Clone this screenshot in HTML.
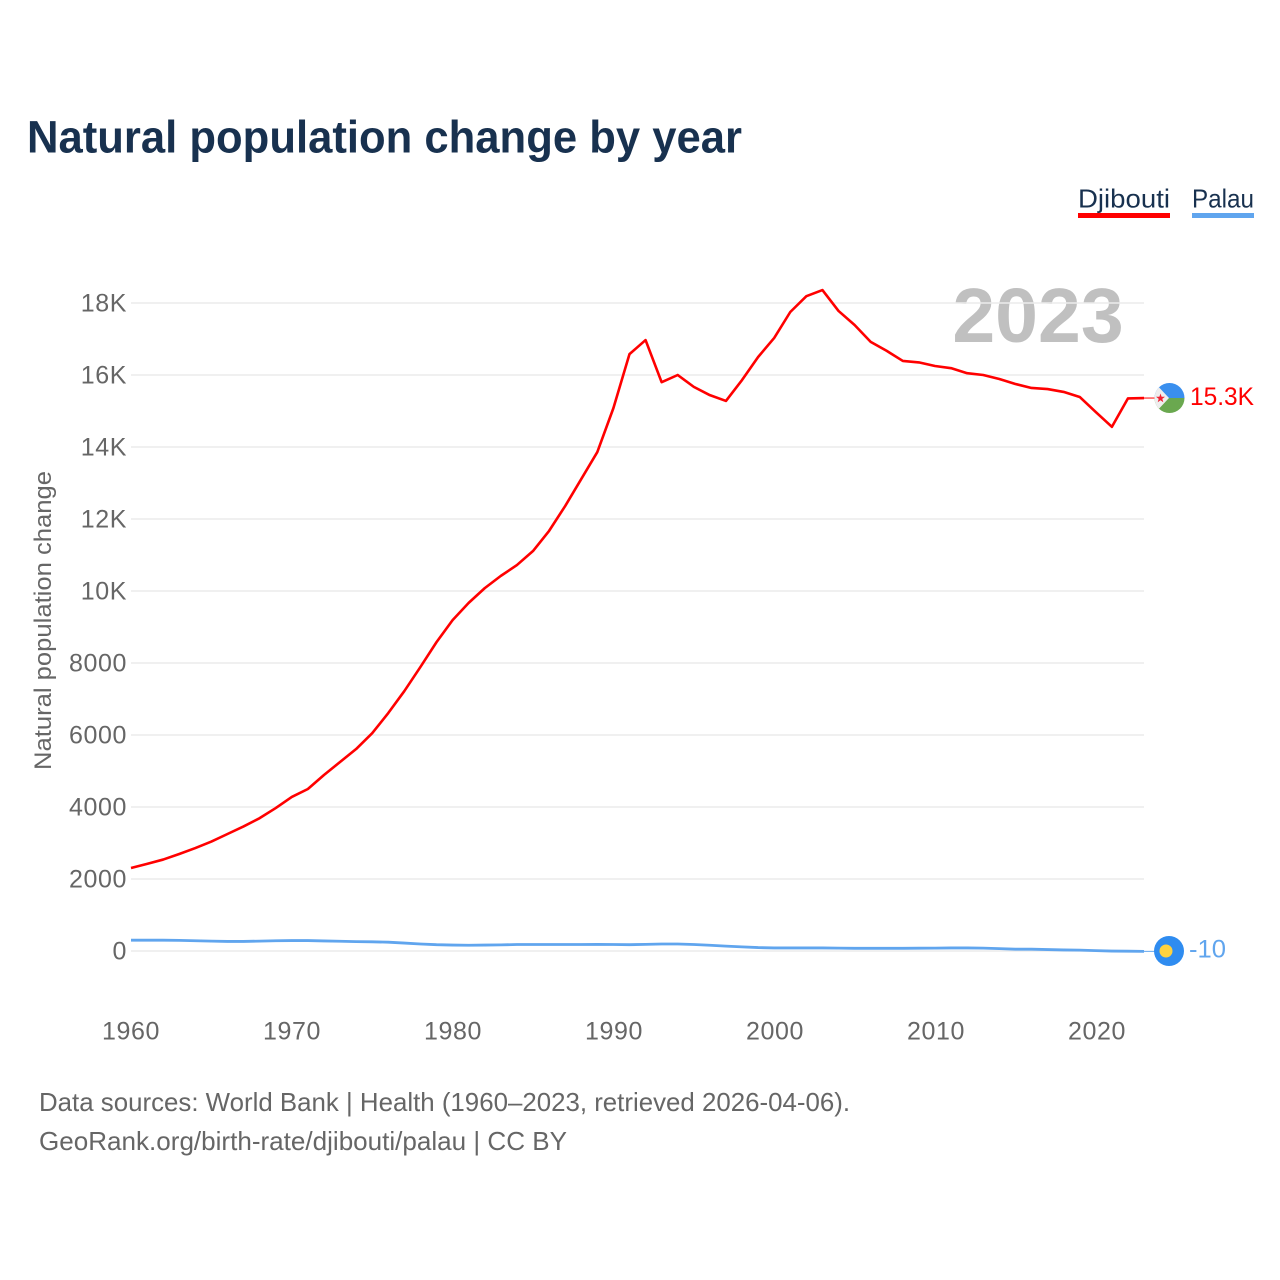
<!DOCTYPE html>
<html lang="en">
<head>
<meta charset="utf-8">
<title>Natural population change by year</title>
<style>
html,body{margin:0;padding:0;background:#fff;}
svg{display:block;font-family:"Liberation Sans",sans-serif;}
</style>
</head>
<body>
<svg id="chart" xmlns="http://www.w3.org/2000/svg" width="1280" height="1280" viewBox="0 0 1280 1280">
  <rect x="0" y="0" width="1280" height="1280" fill="#ffffff"/>
  <text x="27" y="152.5" font-size="45" font-weight="700" fill="#18314f" textLength="715" lengthAdjust="spacingAndGlyphs">Natural population change by year</text>

  <g>
    <text x="1078" y="207.5" font-size="26" fill="#18314f" textLength="92" lengthAdjust="spacingAndGlyphs">Djibouti</text>
    <rect x="1078" y="213" width="92" height="5" fill="#ff0000"/>
  </g>
  <g>
    <text x="1192" y="207.5" font-size="26" fill="#18314f" textLength="62" lengthAdjust="spacingAndGlyphs">Palau</text>
    <rect x="1192" y="213" width="62" height="5" fill="#60a5ee"/>
  </g>

  <text x="1038" y="342" font-size="77" font-weight="700" fill="#c0c0c0" text-anchor="middle">2023</text>

  <g id="grid"></g>
  <g id="yTicks"></g>
  <g id="xTicks"></g>

  <text transform="translate(51,770) rotate(-90)" x="0" y="0" font-size="24" fill="#666666" textLength="299" lengthAdjust="spacingAndGlyphs">Natural population change</text>

  <g id="series"></g>

  <defs>
    <clipPath id="flagClipD"><circle cx="1169.5" cy="398" r="15"/></clipPath>
  </defs>
  <g clip-path="url(#flagClipD)">
    <rect x="1154" y="383" width="31" height="15" fill="#3a8fee"/>
    <rect x="1154" y="398" width="31" height="16" fill="#6aa84f"/>
    <polygon points="1154,382 1169,398 1154,414" fill="#eeeeee"/>
    <polygon points="1160.5,393.5 1161.6,396.8 1165,396.8 1162.3,398.9 1163.3,402.2 1160.5,400.2 1157.7,402.2 1158.7,398.9 1156,396.8 1159.4,396.8" fill="#ee2233"/>
  </g>
  <text x="1190" y="405" font-size="25" fill="#ff0000" textLength="64" lengthAdjust="spacingAndGlyphs">15.3K</text>

  <g>
    <circle cx="1169" cy="951" r="15" fill="#2f8cf0"/>
    <circle cx="1166" cy="951" r="6.5" fill="#ffd23f"/>
  </g>
  <text x="1189" y="957.5" font-size="25" fill="#60a5ee" textLength="37" lengthAdjust="spacingAndGlyphs">-10</text>

  <text x="39" y="1111" font-size="26" fill="#666666" textLength="811" lengthAdjust="spacingAndGlyphs">Data sources: World Bank | Health (1960–2023, retrieved 2026-04-06).</text>
  <text x="39" y="1150" font-size="26" fill="#666666" textLength="528" lengthAdjust="spacingAndGlyphs">GeoRank.org/birth-rate/djibouti/palau | CC BY</text>
</svg>
<script>
const startYear = 1960;
const xTickYears = [1960, 1970, 1980, 1990, 2000, 2010, 2020];
const yTickValues = [0, 2000, 4000, 6000, 8000, 10000, 12000, 14000, 16000, 18000];
const yTickLabels = ["0", "2000", "4000", "6000", "8000", "10K", "12K", "14K", "16K", "18K"];
const djibouti = [2305,2420,2540,2695,2860,3040,3250,3460,3690,3970,
  4280,4500,4890,5250,5610,6050,6610,7220,7890,8580,
  9190,9670,10080,10420,10720,11110,11670,12360,13110,13860,
  15080,16580,16970,15800,16000,15670,15440,15280,15860,16500,
  17030,17750,18190,18360,17780,17390,16920,16670,16390,16350,
  16250,16190,16050,16000,15890,15750,15640,15610,15530,15390,
  14970,14560,15350,15360];
const palau = [300,300,300,295,285,275,265,265,275,285,
  290,290,280,270,260,255,245,220,195,175,
  165,160,165,170,180,180,180,180,180,185,
  180,175,185,195,195,180,160,135,115,95,
  85,85,85,85,80,75,75,75,75,78,
  80,85,85,80,65,50,50,40,30,25,
  10,-2,-5,-10];

const NS = "http://www.w3.org/2000/svg";
function xScale(year) { return 131 + (year - 1960) * 16.08; }
function tickX(year) { return 131 + (year - 1960) * 16.1; }
function yScale(value) { return 951 - value * 0.036; }
function make(tag, attrs, text) {
  const el = document.createElementNS(NS, tag);
  for (const k in attrs) el.setAttribute(k, attrs[k]);
  if (text !== undefined) el.textContent = text;
  return el;
}
const gridG = document.getElementById("grid");
const yG = document.getElementById("yTicks");
const xG = document.getElementById("xTicks");
const seriesG = document.getElementById("series");

yTickValues.forEach(function (v, i) {
  const line = make("line", {x1: 131, x2: 1144, y1: yScale(v), y2: yScale(v), stroke: "#ececec", "stroke-width": 1.5});
  
  
  gridG.appendChild(line);
  const label = yTickLabels[i];
  const t = make("text", {x: 127, y: yScale(v) + 8.5, "font-size": 25, fill: "#666666", "text-anchor": "end", "letter-spacing": "0.6"}, label);
  
  
  yG.appendChild(t);
});

xTickYears.forEach(function (yr) {
  const t = make("text", {x: tickX(yr), y: 1039.5, "font-size": 25, fill: "#666666", "text-anchor": "middle", "letter-spacing": "0.6"}, String(yr));
  
  
  xG.appendChild(t);
});

function pathFor(values) {
  return values.map(function (v, i) {
    return (i ? "L" : "M") + xScale(startYear + i).toFixed(2) + " " + yScale(v).toFixed(2);
  }).join(" ");
}
function connector(values, color) {
  const last = values[values.length - 1];
  const endX = xScale(startYear + values.length - 1);
  const c = make("line", {x1: endX, x2: endX + 11, y1: yScale(last), y2: yScale(last), stroke: color, "stroke-width": 1});
  
  
  seriesG.appendChild(c);
}

const palauLine = make("path", {d: pathFor(palau), fill: "none", stroke: "#60a5ee", "stroke-width": 2.8, "stroke-linejoin": "round"});


seriesG.appendChild(palauLine);
connector(palau, "#60a5ee");

const djiboutiLine = make("path", {d: pathFor(djibouti), fill: "none", stroke: "#ff0000", "stroke-width": 2.6, "stroke-linejoin": "round"});


seriesG.appendChild(djiboutiLine);
connector(djibouti, "#ff0000");
</script>
</body>
</html>
